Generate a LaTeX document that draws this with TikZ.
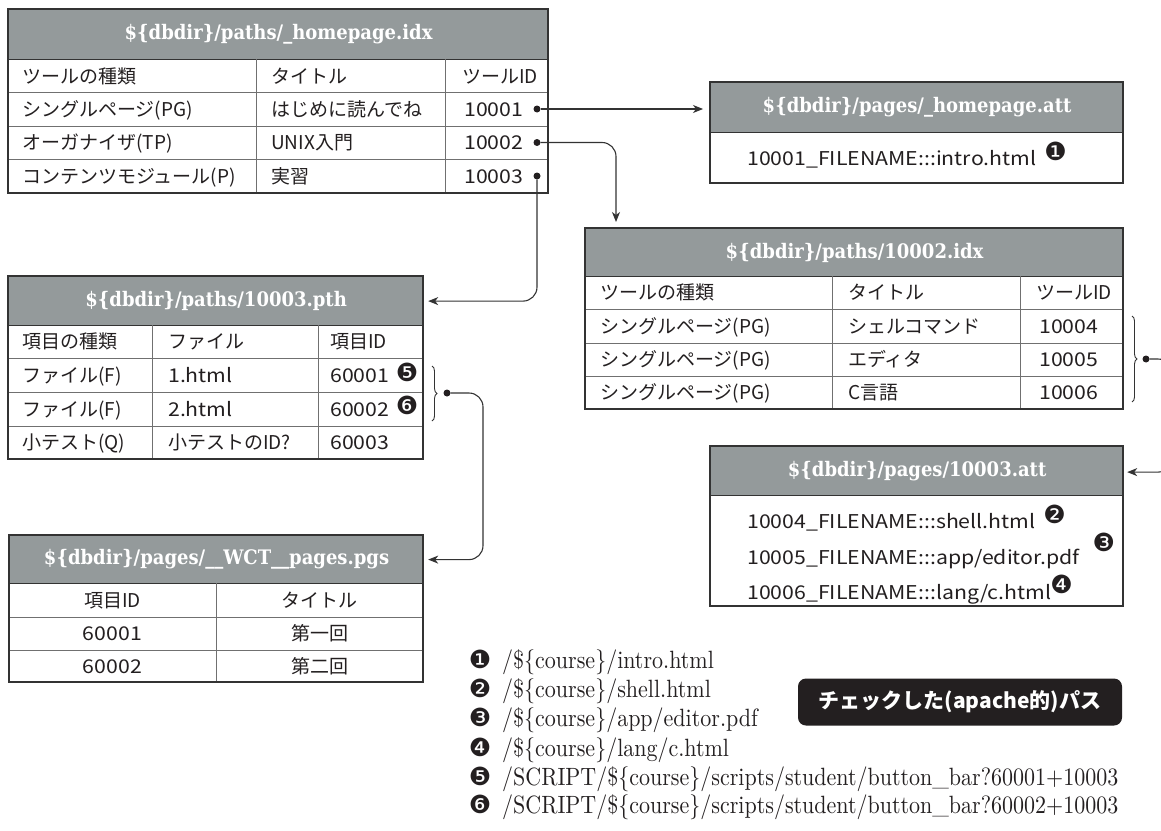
\documentclass[tikz,border=0pt]{standalone}
\usepackage{fontspec}
\usetikzlibrary{decorations.pathreplacing,calc,arrows.meta}
\newfontfamily\jp{Noto Sans CJK JP}
\newfontfamily\jpw{Noto Sans CJK JP}[FakeStretch=1.12]
\newfontfamily\hdrfont{DejaVu Serif}[FakeStretch=0.9]
\newfontfamily\listfont{lmroman10-regular.otf}[FakeStretch=0.88]
\newfontfamily\dingf{DejaVu Sans}
\definecolor{hdrgray}{HTML}{949A9B}
\definecolor{linec}{HTML}{333333}
\definecolor{gridc}{HTML}{707070}
\definecolor{boxblack}{HTML}{231F20}
\definecolor{txt}{HTML}{231F20}
\begin{document}
\begin{tikzpicture}[x=1pt,y=-1pt,
  hdr/.style={fill=hdrgray, draw=linec, line width=1.2pt, anchor=north west, inner sep=0pt, text=white, font=\hdrfont\bfseries\fontsize{20}{24}\selectfont},
  cell/.style={anchor=base west, inner sep=0pt, text=txt, font=\jp\fontsize{19}{23}\selectfont},
  wcell/.style={anchor=base west, inner sep=0pt, text=txt, font=\jpw\fontsize{19}{23}\selectfont},
  ccell/.style={anchor=base, inner sep=0pt, text=txt, font=\jp\fontsize{19}{23}\selectfont},
  wccell/.style={anchor=base, inner sep=0pt, text=txt, font=\jpw\fontsize{19}{23}\selectfont},
  frame/.style={draw=linec, line width=1.4pt},
  gridline/.style={draw=gridc, line width=1pt},
  dot/.style={circle, fill=txt, inner sep=0pt, minimum size=7pt},
  mk/.style={inner sep=0pt, text=txt, font=\dingf\fontsize{25}{28}\selectfont},
  listtxt/.style={anchor=base west, inner sep=0pt, text=txt, font=\listfont\fontsize{25}{28}\selectfont},
  conn/.style={draw=linec, line width=1.1pt, rounded corners=14pt, -{Stealth[length=10pt,width=8pt,inset=3pt]}},
  bracestyle/.style={draw=linec, line width=0.9pt, decorate, decoration={brace, amplitude=5pt}}
]
\fill[white] (0,0) rectangle (1161,830);
\useasboundingbox (0,0) rectangle (1161,830);

% ---------- Table 1: _homepage.idx ----------
\node[hdr, minimum width=540pt, minimum height=50pt] (t1h) at (8,9) {\$\{dbdir\}/paths/\_homepage.idx};
\draw[gridline] (8,92.5) -- (548,92.5) (8,126) -- (548,126) (8,159.5) -- (548,159.5)
  (256,59) -- (256,193) (445,59) -- (445,193);
\draw[frame] (8,9) rectangle (548,193);
\node[cell] (t1a0) at (22,83) {ツールの種類};
\node[cell] (t1b0) at (271,83) {タイトル};
\node[cell] (t1c0) at (462,83) {ツールID};
\node[cell] (t1a1) at (22,116) {シングルページ(PG)};
\node[cell] (t1b1) at (271,116) {はじめに読んでね};
\node[wcell] (t1c1) at (464,116) {10001};
\node[cell] (t1a2) at (22,149.5) {オーガナイザ(TP)};
\node[cell] (t1b2) at (271,149.5) {UNIX入門};
\node[wcell] (t1c2) at (464,149.5) {10002};
\node[cell] (t1a3) at (22,183) {コンテンツモジュール(P)};
\node[cell] (t1b3) at (271,183) {実習};
\node[wcell] (t1c3) at (464,183) {10003};
\node[dot] (d1) at (537,109) {};
\node[dot] (d2) at (537,142.5) {};
\node[dot] (d3) at (537,176) {};

% ---------- Table 2: _homepage.att ----------
\node[hdr, minimum width=413pt, minimum height=50pt] (a1h) at (710,82) {\$\{dbdir\}/pages/\_homepage.att};
\draw[frame] (710,82) rectangle (1123,183);
\node[wcell] (a1t) at (747,165) {10001\_FILENAME:::intro.html};
\node[mk] (m1) at ($(a1t.base east)+(19pt,14pt)$) {❶};

% ---------- Table 3: 10002.idx ----------
\node[hdr, minimum width=538pt, minimum height=48pt] (i2h) at (585,228) {\$\{dbdir\}/paths/10002.idx};
\draw[gridline] (585,309) -- (1123,309) (585,343) -- (1123,343) (585,376) -- (1123,376)
  (832,276) -- (832,409) (1020,276) -- (1020,409);
\draw[frame] (585,228) rectangle (1123,409);
\node[cell] (i2a0) at (600,299.5) {ツールの種類};
\node[cell] (i2b0) at (848,299.5) {タイトル};
\node[cell] (i2c0) at (1036,299.5) {ツールID};
\node[cell] (i2a1) at (600,333) {シングルページ(PG)};
\node[cell] (i2b1) at (848,333) {シェルコマンド};
\node[wcell] (i2c1) at (1039,333) {10004};
\node[cell] (i2a2) at (600,366.5) {シングルページ(PG)};
\node[cell] (i2b2) at (848,366.5) {エディタ};
\node[wcell] (i2c2) at (1039,366.5) {10005};
\node[cell] (i2a3) at (600,399.5) {シングルページ(PG)};
\node[cell] (i2b3) at (848,399.5) {C言語};
\node[wcell] (i2c3) at (1039,399.5) {10006};
\draw[bracestyle] (1132,316) -- (1132,402);
\node[dot] (bd1) at (1146,359) {};

% ---------- Table 4: 10003.pth ----------
\node[hdr, minimum width=415pt, minimum height=49pt] (p1h) at (8,276) {\$\{dbdir\}/paths/10003.pth};
\draw[gridline] (8,358) -- (423,358) (8,392) -- (423,392) (8,426) -- (423,426)
  (152,325) -- (152,459) (318,325) -- (318,459);
\draw[frame] (8,276) rectangle (423,459);
\node[cell] (p1a0) at (22,348.5) {項目の種類};
\node[cell] (p1b0) at (168,348.5) {ファイル};
\node[cell] (p1c0) at (330,348.5) {項目ID};
\node[cell] (p1a1) at (22,382) {ファイル(F)};
\node[wcell] (p1b1) at (168,382) {1.html};
\node[wcell] (p1c1) at (330,382) {60001};
\node[cell] (p1a2) at (22,416) {ファイル(F)};
\node[wcell] (p1b2) at (168,416) {2.html};
\node[wcell] (p1c2) at (330,416) {60002};
\node[cell] (p1a3) at (22,449.5) {小テスト(Q)};
\node[cell] (p1b3) at (168,449.5) {小テストのID?};
\node[wcell] (p1c3) at (330,449.5) {60003};
\node[mk] (m5) at (407,372) {❺};
\node[mk] (m6) at (407,405) {❻};
\draw[bracestyle] (432,366) -- (432,421);
\node[dot] (bd2) at (447,393) {};

% ---------- Table 5: __WCT__pages.pgs ----------
\node[hdr, minimum width=414pt, minimum height=48pt] (w1h) at (9,535) {\$\{dbdir\}/pages/\_\_WCT\_\_pages.pgs};
\draw[gridline] (9,617) -- (423,617) (9,650) -- (423,650) (216,583) -- (216,682);
\draw[frame] (9,535) rectangle (423,682);
\node[ccell] (w1a0) at (112.5,607) {項目ID};
\node[ccell] (w1b0) at (319.5,607) {タイトル};
\node[wccell] (w1a1) at (112.5,640.5) {60001};
\node[ccell] (w1b1) at (319.5,640.5) {第一回};
\node[wccell] (w1a2) at (112.5,673) {60002};
\node[ccell] (w1b2) at (319.5,673) {第二回};

% ---------- Table 6: 10003.att ----------
\node[hdr, minimum width=413pt, minimum height=49pt] (a3h) at (710,446) {\$\{dbdir\}/pages/10003.att};
\draw[frame] (710,446) rectangle (1123,606);
\node[wcell] (a3t1) at (747,528) {10004\_FILENAME:::shell.html};
\node[wcell] (a3t2) at (747,564) {10005\_FILENAME:::app/editor.pdf};
\node[wcell] (a3t3) at (747,599) {10006\_FILENAME:::lang/c.html};
\node[mk] (m2) at ($(a3t1.base east)+(19pt,14pt)$) {❷};
\node[mk] (m3) at ($(a3t2.base east)+(24pt,22pt)$) {❸};
\node[mk] (m4) at ($(a3t3.base east)+(10pt,15pt)$) {❹};

% ---------- connectors ----------
\coordinate (rt) at (1172,420);
\coordinate (lv) at (483,470);
\draw[conn, shorten >=7pt] (d1) -- (d1 -| a1h.west);
\draw[conn] (d2) -| ($(i2h.north west)+(31pt,6pt)$);
\draw[conn] (d3) |- ($(p1h.east)+(4pt,0pt)$);
\draw[conn] (bd1) -- (bd1 -| rt) |- ($(a3h.east)+(3pt,-1pt)$);
\draw[conn] (bd2) -- (bd2 -| lv) |- ($(w1h.east)+(4pt,0pt)$);

% ---------- list ----------
\node[mk] (n1) at (480,659) {❶};
\node[mk] (n2) at (480,688) {❷};
\node[mk] (n3) at (480,717) {❸};
\node[mk] (n4) at (480,747) {❹};
\node[mk] (n5) at (480,776) {❺};
\node[mk] (n6) at (480,804) {❻};
\node[listtxt] (l1) at (502,668) {/\$\{course\}/intro.html};
\node[listtxt] (l2) at (502,697) {/\$\{course\}/shell.html};
\node[listtxt] (l3) at (502,726) {/\$\{course\}/app/editor.pdf};
\node[listtxt] (l4) at (502,756) {/\$\{course\}/lang/c.html};
\node[listtxt] (l5) at (502,785) {/SCRIPT/\$\{course\}/scripts/student/button\_bar?60001+10003};
\node[listtxt] (l6) at (502,813) {/SCRIPT/\$\{course\}/scripts/student/button\_bar?60002+10003};

% ---------- label box ----------
\node[fill=boxblack, rounded corners=8pt, minimum width=324pt, minimum height=47pt, inner sep=0pt,
  text=white, font=\jp\bfseries\fontsize{21}{25}\selectfont] (chk) at (960,702) {チェックした(apache的)パス};
\end{tikzpicture}
\end{document}
